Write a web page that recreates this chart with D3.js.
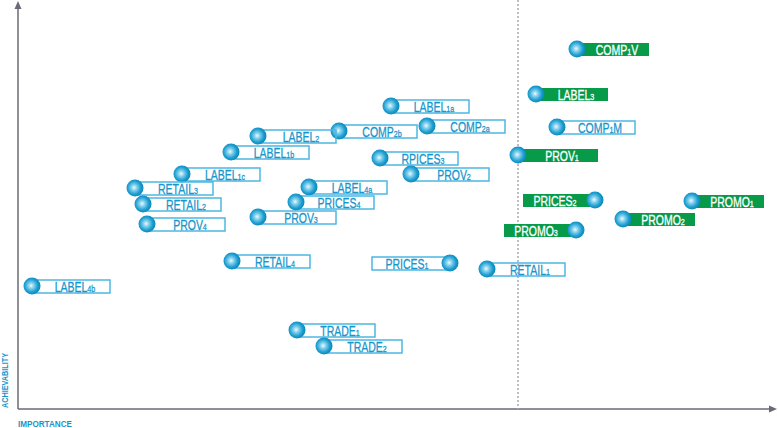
<!DOCTYPE html>
<html>
<head>
<meta charset="utf-8">
<script src="https://cdn.jsdelivr.net/npm/d3@7"></script>
<style>
  body { margin: 0; background: #fff; }
  svg text { font-family: "Liberation Sans", Arial, sans-serif; }
</style>
</head>
<body>
<svg id="chart"></svg>
<script>
// names: "_" toggles between normal and subscript text
const names = [
  "COMP_1_V", "LABEL_3", "COMP_1_M", "PROV_1", "PRICES_2", "PROMO_1", "PROMO_2", "PROMO_3",
  "RETAIL_1", "PRICES_1", "RETAIL_4", "LABEL_4b", "TRADE_1", "TRADE_2",
  "LABEL_1a", "COMP_2b", "COMP_2a", "LABEL_2", "LABEL_1b", "RPICES_3", "PROV_2",
  "LABEL_1c", "RETAIL_3", "LABEL_4a", "RETAIL_2", "PRICES_4", "PROV_3", "PROV_4"
];
const importance = [
  11.18, 10.36, 10.78, 10.0, 11.54, 13.48, 12.1, 11.16,
  9.38, 8.64, 4.28, 0.28, 5.58, 6.12,
  7.46, 6.42, 8.18, 4.8, 4.26, 7.24, 7.86,
  3.28, 2.34, 5.82, 2.5, 5.56, 4.8, 2.58
];
const achievability = [
  9.0, 7.875, 7.05, 6.35, 5.225, 5.2, 4.75, 4.475,
  3.5, 3.65, 3.7, 3.075, 1.975, 1.575,
  7.575, 6.95, 7.075, 6.825, 6.425, 6.275, 5.875,
  5.875, 5.525, 5.55, 5.125, 5.175, 4.8, 4.625
];
const priority = ["COMP_1_V", "LABEL_3", "PROV_1", "PRICES_2", "PROMO_1", "PROMO_2", "PROMO_3"];
const threshold = 10;

const leftLabelled = new Set(["PRICES_2", "PROMO_3", "PRICES_1"]);

const width = 778, height = 428;
const svg = d3.select("#chart").attr("width", width).attr("height", height);

const x = d3.scaleLinear().domain([0, 15]).range([18, 768]);
const y = d3.scaleLinear().domain([0, 10]).range([409, 9]);

const teal = "#1896cc";
const boxStroke = "#4cb8e2";
const green = "#079a49";
const axisCol = "#6a6a76";

// sphere gradient
const defs = svg.append("defs");
const grad = defs.append("radialGradient").attr("id", "ball")
  .attr("cx", "45%").attr("cy", "48%").attr("r", "55%");
grad.append("stop").attr("offset", "0%").attr("stop-color", "#eef9fd");
grad.append("stop").attr("offset", "30%").attr("stop-color", "#84d0ec");
grad.append("stop").attr("offset", "70%").attr("stop-color", "#1d9fd2");
grad.append("stop").attr("offset", "100%").attr("stop-color", "#0b84b6");

// axes with arrows
svg.append("line").attr("x1", x(0)).attr("x2", x(0)).attr("y1", y(0)).attr("y2", 6)
  .attr("stroke", axisCol).attr("stroke-width", 1.5);
svg.append("path").attr("d", `M${x(0)},1 L${x(0) - 3.5},9 L${x(0) + 3.5},9 Z`).attr("fill", axisCol);
svg.append("line").attr("x1", x(0)).attr("x2", 772).attr("y1", y(0)).attr("y2", y(0))
  .attr("stroke", axisCol).attr("stroke-width", 1.5);
svg.append("path").attr("d", `M777,${y(0)} L769,${y(0) - 3.5} L769,${y(0) + 3.5} Z`).attr("fill", axisCol);

svg.append("text")
  .attr("transform", `translate(8,408) rotate(-90)`)
  .attr("font-size", 9).attr("font-weight", "bold").attr("fill", teal)
  .attr("textLength", 55).attr("lengthAdjust", "spacingAndGlyphs")
  .text("ACHIEVABILITY");
svg.append("text")
  .attr("x", 18).attr("y", 427)
  .attr("font-size", 9).attr("font-weight", "bold").attr("fill", teal)
  .attr("textLength", 54).attr("lengthAdjust", "spacingAndGlyphs")
  .text("IMPORTANCE");

// points
const data = names.map((n, i) => ({
  name: n, x: importance[i], y: achievability[i],
  hot: priority.includes(n), left: leftLabelled.has(n)
}));

const g = svg.selectAll("g.pt").data(data).enter().append("g").attr("class", "pt")
  .attr("transform", d => `translate(${x(d.x)},${y(d.y)})`);

const bw = d => d.hot ? (d.name === "PROV_1" ? 80 : 72) : 78;

g.append("rect")
  .attr("x", d => d.left ? -bw(d) : 0)
  .attr("y", -6)
  .attr("width", bw)
  .attr("height", 13)
  .attr("fill", d => d.hot ? green : "none")
  .attr("stroke", d => d.hot ? "none" : boxStroke)
  .attr("stroke-width", 1.5);

// condensed look: squeeze Arial horizontally
const sx = 0.75;
const txt = g.append("text")
  .attr("transform", d => `translate(${d.left ? -bw(d) / 2 - 4 : bw(d) / 2 + 4},6) scale(${sx},1)`)
  .attr("text-anchor", "middle")
  .attr("font-size", 14)
  .attr("fill", d => d.hot ? "#fff" : teal)
  .attr("stroke", d => d.hot ? "#fff" : teal)
  .attr("stroke-width", 0.3);

txt.each(function(d) {
  const parts = d.name.split("_");
  const t = d3.select(this);
  parts.forEach((p, k) => {
    if (!p) return;
    t.append("tspan").attr("font-size", k % 2 ? 9.5 : 14).text(p);
  });
});

g.append("circle")
  .attr("r", 8.5)
  .attr("fill", "url(#ball)");

// threshold line (drawn over the spheres, under nothing else visible)
svg.insert("line", "g.pt")
  .attr("x1", x(threshold)).attr("x2", x(threshold))
  .attr("y1", 0).attr("y2", y(0))
  .attr("stroke", "#a8a8b0").attr("stroke-width", 1.5)
  .attr("stroke-dasharray", "2,2");
</script>
</body>
</html>
